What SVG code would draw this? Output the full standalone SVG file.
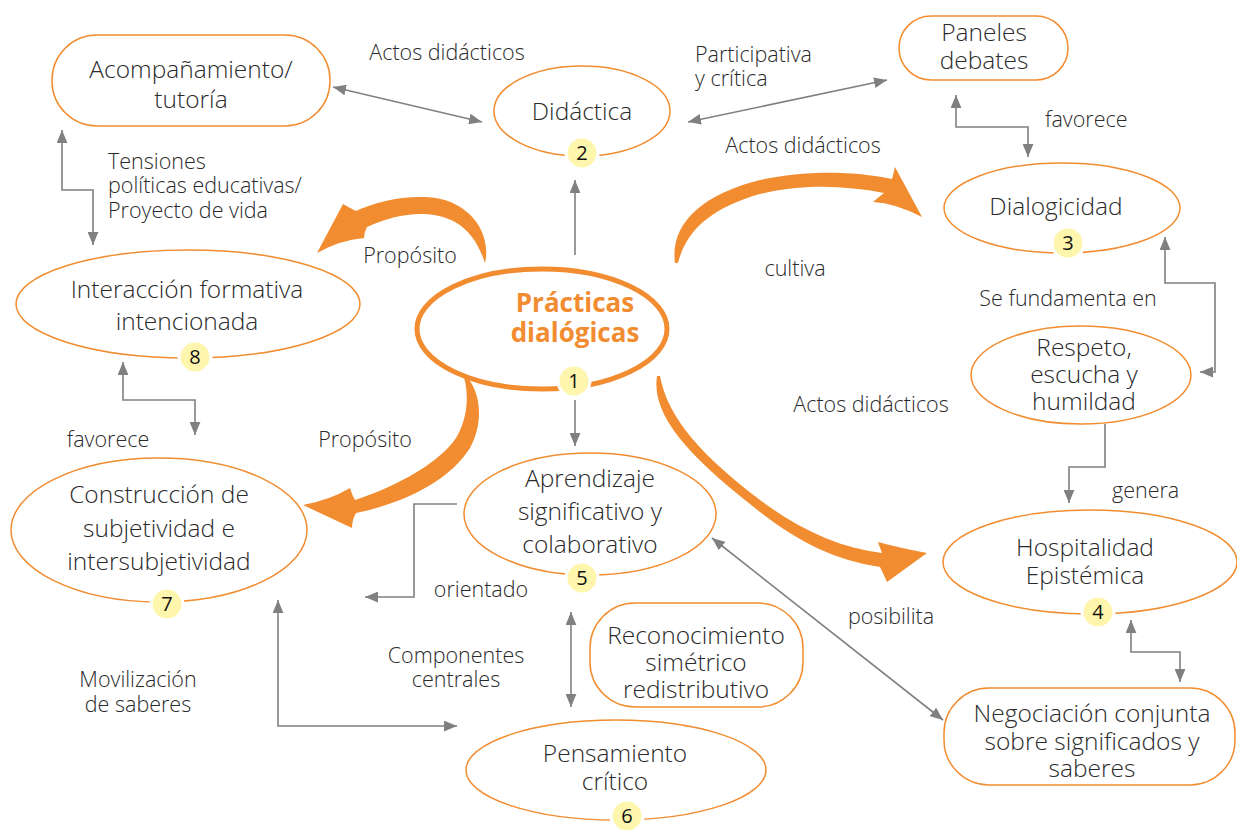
<svg xmlns="http://www.w3.org/2000/svg" width="1237" height="830" viewBox="0 0 1237 830">
<defs>
<style>
.n{fill:#fff;stroke:#F28C30;stroke-width:1.5}
.t{font-family:"Open Sans","Liberation Sans",sans-serif;font-weight:300;font-size:24.5px;fill:#2a2a2a;text-anchor:middle}
.l{font-family:"Open Sans","Liberation Sans",sans-serif;font-weight:300;font-size:21.5px;fill:#2a2a2a;text-anchor:middle}
.ls{text-anchor:start}
.c{fill:none;stroke:#808080;stroke-width:1.6}
.b{fill:#FFF6AE;stroke:#fff;stroke-width:3}
.bt{font-family:"Open Sans","Liberation Sans",sans-serif;font-size:20px;fill:#111;text-anchor:middle}
.big{fill:#F28C30}
.pd{font-family:"Open Sans","Liberation Sans",sans-serif;font-weight:700;font-size:26px;fill:#F28C30;text-anchor:middle}
</style>
<marker id="ah" viewBox="0 0 12 10" refX="12" refY="5" markerWidth="13" markerHeight="11" markerUnits="userSpaceOnUse" orient="auto-start-reverse">
<path d="M0,0 L12,5 L0,10 z" fill="#808080"/>
</marker>
</defs>

<g id="connectors">
<line class="c" x1="333" y1="87" x2="482" y2="122" marker-start="url(#ah)" marker-end="url(#ah)"/>
<line class="c" x1="688" y1="122" x2="887" y2="80" marker-start="url(#ah)" marker-end="url(#ah)"/>
<polyline class="c" points="956,95 956,127 1028,127 1028,157" marker-start="url(#ah)" marker-end="url(#ah)"/>
<polyline class="c" points="1165,237 1165,283 1215,283 1215,372 1200,372" marker-start="url(#ah)" marker-end="url(#ah)"/>
<polyline class="c" points="1105,424 1105,467 1069,467 1069,503" marker-end="url(#ah)"/>
<polyline class="c" points="1131,620 1131,652 1180,652 1180,682" marker-start="url(#ah)" marker-end="url(#ah)"/>
<line class="c" x1="712" y1="538" x2="943" y2="720" marker-start="url(#ah)" marker-end="url(#ah)"/>
<line class="c" x1="575" y1="255" x2="575" y2="180" marker-end="url(#ah)"/>
<line class="c" x1="575" y1="400" x2="575" y2="446" marker-end="url(#ah)"/>
<polyline class="c" points="457,504 414,504 414,597 365,597" marker-end="url(#ah)"/>
<line class="c" x1="571" y1="612" x2="571" y2="707" marker-start="url(#ah)" marker-end="url(#ah)"/>
<polyline class="c" points="278,600 278,726 457,726" marker-start="url(#ah)" marker-end="url(#ah)"/>
<polyline class="c" points="123,362 123,400 195,400 195,435" marker-start="url(#ah)" marker-end="url(#ah)"/>
<polyline class="c" points="62,130 62,190 93,190 93,245" marker-start="url(#ah)" marker-end="url(#ah)"/>
<path class="big" d="M485,263 C492,232 468,198 425,197 C400,196 375,202 356,211 Q350,208 343,204 L317,253 Q340,240 364,238 Q364,232 367,227 C395,214 430,208 455,222 C472,232 480,248 485,263 Z"/>
<path class="big" d="M675,263 C670,225 700,195 760,180 C800,171 850,170 892,179 L895,167 L922,217 Q895,203 873,202 Q880,196 884,193 C840,184 790,184 750,197 C705,212 685,235 678,263 Z"/>
<path class="big" d="M462,371 C482,390 484,422 470,448 C450,480 405,503 356,513 Q352,520 352,528 L303,505 Q330,500 350,488 Q352,495 355,500 C398,486 440,462 456,438 C468,418 470,392 462,371 Z"/>
<path class="big" d="M657,376 C650,420 700,465 760,512 C800,543 835,560 880,567 Q884,575 887,582 L927,553 Q900,548 878,542 Q880,548 882,553 C840,548 800,530 760,500 C705,458 668,420 660,376 Z"/>
</g>

<g id="labels">
<text class="l" x="447" y="60">Actos didácticos</text>
<text class="l ls" x="695" y="62">Participativa<tspan x="695" dy="24">y crítica</tspan></text>
<text class="l" x="803" y="153">Actos didácticos</text>
<text class="l ls" x="1045" y="127">favorece</text>
<text class="l" x="1068" y="306">Se fundamenta en</text>
<text class="l" x="871" y="412">Actos didácticos</text>
<text class="l ls" x="1112" y="498">genera</text>
<text class="l" x="795" y="276">cultiva</text>
<text class="l" x="410" y="263">Propósito</text>
<text class="l" x="365" y="447">Propósito</text>
<text class="l" x="891" y="624">posibilita</text>
<text class="l" x="481" y="597">orientado</text>
<text class="l" x="456" y="663">Componentes<tspan x="456" dy="24">centrales</tspan></text>
<text class="l" x="138" y="687">Movilización<tspan x="138" dy="25">de saberes</tspan></text>
<text class="l" x="108" y="447">favorece</text>
<text class="l ls" x="108" y="169">Tensiones<tspan x="108" dy="24">políticas educativas/</tspan><tspan x="108" dy="25">Proyecto de vida</tspan></text>
</g>

<g id="n-acompanamiento">
<rect class="n" x="52" y="35" width="278" height="91" rx="45"/>
<text class="t" x="191" y="78">Acompañamiento/<tspan x="191" dy="30">tutoría</tspan></text>
</g>
<g id="n-didactica">
<ellipse class="n" cx="582" cy="111" rx="88" ry="45"/>
<text class="t" x="582" y="120">Didáctica</text>
<circle class="b" cx="582" cy="153" r="16"/>
<text class="bt" x="582" y="160">2</text>
</g>
<g id="n-paneles">
<rect class="n" x="899" y="16" width="169" height="64" rx="32"/>
<text class="t" x="984" y="41">Paneles<tspan x="984" dy="28">debates</tspan></text>
</g>
<g id="n-dialogicidad">
<ellipse class="n" cx="1062" cy="208" rx="118" ry="45"/>
<text class="t" x="1056" y="215">Dialogicidad</text>
<circle class="b" cx="1068" cy="243" r="16"/>
<text class="bt" x="1068" y="250">3</text>
</g>
<g id="n-respeto">
<ellipse class="n" cx="1081" cy="375" rx="110" ry="49"/>
<text class="t" x="1084" y="356">Respeto,<tspan x="1084" dy="27">escucha y</tspan><tspan x="1084" dy="27">humildad</tspan></text>
</g>
<g id="n-hospitalidad">
<ellipse class="n" cx="1090" cy="562" rx="147" ry="52"/>
<text class="t" x="1085" y="556">Hospitalidad<tspan x="1085" dy="28">Epistémica</tspan></text>
<circle class="b" cx="1098" cy="612" r="16"/>
<text class="bt" x="1098" y="619">4</text>
</g>
<g id="n-negociacion">
<rect class="n" x="944" y="688" width="291" height="97" rx="45"/>
<text class="t" x="1092" y="722">Negociación conjunta<tspan x="1092" dy="28">sobre significados y</tspan><tspan x="1092" dy="27">saberes</tspan></text>
</g>
<g id="n-aprendizaje">
<ellipse class="n" cx="590" cy="514" rx="126" ry="61"/>
<text class="t" x="590" y="487">Aprendizaje<tspan x="590" dy="33">significativo y</tspan><tspan x="590" dy="33">colaborativo</tspan></text>
<circle class="b" cx="582" cy="578" r="16"/>
<text class="bt" x="582" y="585">5</text>
</g>
<g id="n-reconocimiento">
<rect class="n" x="590" y="603" width="213" height="104" rx="45"/>
<text class="t" x="696" y="644">Reconocimiento<tspan x="696" dy="27">simétrico</tspan><tspan x="696" dy="27">redistributivo</tspan></text>
</g>
<g id="n-pensamiento">
<ellipse class="n" cx="616" cy="770" rx="150" ry="50"/>
<text class="t" x="615" y="762">Pensamiento<tspan x="615" dy="28">crítico</tspan></text>
<circle class="b" cx="627" cy="816" r="16"/>
<text class="bt" x="627" y="823">6</text>
</g>
<g id="n-construccion">
<ellipse class="n" cx="159" cy="530" rx="148" ry="72"/>
<text class="t" x="159" y="503">Construcción de<tspan x="159" dy="34">subjetividad e</tspan><tspan x="159" dy="33">intersubjetividad</tspan></text>
<circle class="b" cx="167" cy="604" r="16"/>
<text class="bt" x="167" y="611">7</text>
</g>
<g id="n-interaccion">
<ellipse class="n" cx="188" cy="304" rx="172" ry="54"/>
<text class="t" x="187" y="298">Interacción formativa<tspan x="187" dy="32">intencionada</tspan></text>
<circle class="b" cx="195" cy="357" r="16"/>
<text class="bt" x="195" y="364">8</text>
</g>
<g id="n-practicas">
<ellipse cx="542" cy="329" rx="125" ry="60" fill="#fff" stroke="#F28C30" stroke-width="5"/>
<text class="pd" x="575" y="312">Prácticas<tspan x="575" dy="30">dialógicas</tspan></text>
<circle class="b" cx="574" cy="381" r="16"/>
<text class="bt" x="574" y="388">1</text>
</g>
</svg>
